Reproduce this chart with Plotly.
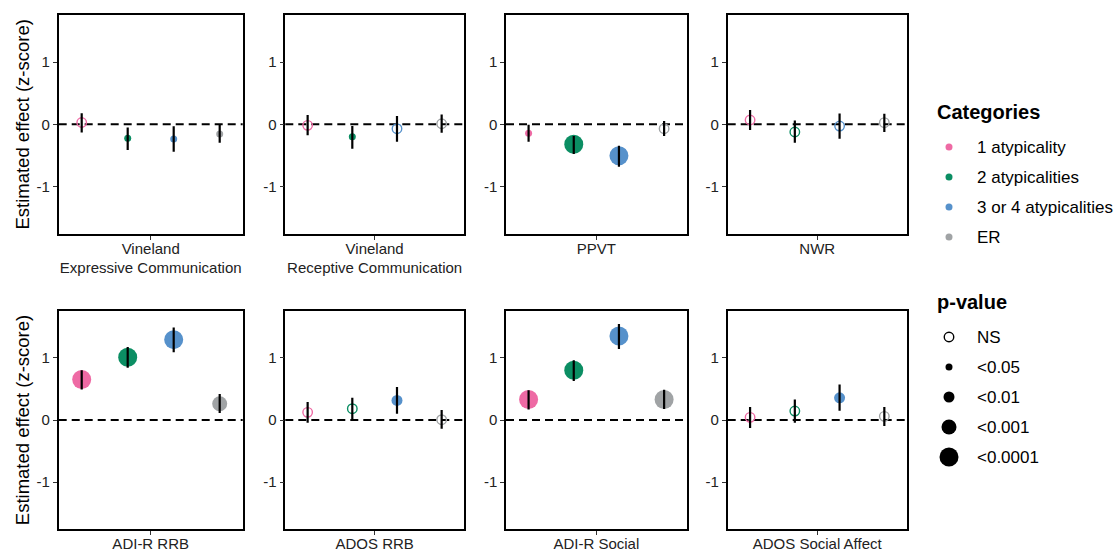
import plotly.graph_objects as go

W, H = 1114, 552
FONT = "Liberation Sans, Arial, sans-serif"

# ---------------- data ----------------
measures = ["Vineland<br>Expressive Communication", "Vineland<br>Receptive Communication",
            "PPVT", "NWR", "ADI-R RRB", "ADOS RRB", "ADI-R Social", "ADOS Social Affect"]
categories = ["1 atypicality", "2 atypicalities", "3 or 4 atypicalities", "ER"]
cat_colors = ["#EE6AA4", "#0B8E63", "#5691CB", "#A0A3A5"]
pval_levels = ["NS", "<0.05", "<0.01", "<0.001", "<0.0001"]

# per category, values across the 8 measures (same order as `measures`)
est_1 = [0.03, -0.016, -0.144, 0.07, 0.652, 0.123, 0.33, 0.043]
lo_1 = [-0.13, -0.176, -0.278, -0.09, 0.49, -0.043, 0.17, -0.128]
hi_1 = [0.18, 0.15, -0.005, 0.23, 0.80, 0.289, 0.48, 0.21]
p_1 = ["NS", "NS", "<0.05", "NS", "<0.0001", "NS", "<0.0001", "NS"]

est_2 = [-0.225, -0.198, -0.32, -0.123, 1.01, 0.182, 0.80, 0.144]
lo_2 = [-0.41, -0.39, -0.476, -0.294, 0.84, 0.0, 0.63, -0.043]
hi_2 = [-0.05, -0.027, -0.187, 0.06, 1.176, 0.358, 0.963, 0.33]
p_2 = ["<0.05", "<0.05", "<0.0001", "NS", "<0.0001", "NS", "<0.0001", "NS"]

est_3 = [-0.235, -0.07, -0.503, -0.027, 1.294, 0.316, 1.353, 0.358]
lo_3 = [-0.44, -0.278, -0.68, -0.23, 1.09, 0.10, 1.144, 0.15]
hi_3 = [-0.03, 0.134, -0.342, 0.176, 1.49, 0.53, 1.545, 0.572]
p_3 = ["<0.05", "NS", "<0.0001", "NS", "<0.0001", "<0.01", "<0.0001", "<0.01"]

est_4 = [-0.155, 0.01, -0.07, 0.027, 0.262, 0.005, 0.33, 0.059]
lo_4 = [-0.295, -0.134, -0.187, -0.123, 0.112, -0.14, 0.176, -0.096]
hi_4 = [-0.01, 0.16, 0.053, 0.171, 0.417, 0.16, 0.487, 0.21]
p_4 = ["<0.05", "NS", "NS", "NS", "<0.001", "NS", "<0.0001", "NS"]

y_ticks = [-1, 0, 1]
y_ticklabels = ["-1", "0", "1"]

# ---------------- styling ----------------
SIZE = {"NS": 9.5, "<0.05": 7, "<0.01": 11, "<0.001": 15, "<0.0001": 19}
EST = [est_1, est_2, est_3, est_4]
LO = [lo_1, lo_2, lo_3, lo_4]
HI = [hi_1, hi_2, hi_3, hi_4]
PV = [p_1, p_2, p_3, p_4]

col_px = [(58.7, 242.7), (285.3, 464.0), (506.0, 686.7), (727.7, 906.7)]
row_px = [(14.7, 234.0), (310.7, 529.3)]
YR = [-1.76, 1.76]

fig = go.Figure()
layout = dict(width=W, height=H, margin=dict(l=0, r=0, t=0, b=0),
              paper_bgcolor="white", plot_bgcolor="rgba(0,0,0,0)", showlegend=False,
              font=dict(family=FONT, size=15, color="#333333"))
shapes = []

for m, name in enumerate(measures):
    k = m + 1
    r, c = divmod(m, 4)
    xs = "" if k == 1 else str(k)
    xa, ya = "x" + xs, "y" + xs
    # points
    for ci in range(4):
        p = PV[ci][m]
        hollow = p == "NS"
        fig.add_trace(go.Scatter(
            x=[ci + 1], y=[EST[ci][m]], mode="markers", xaxis=xa, yaxis=ya,
            marker=dict(symbol="circle-open" if hollow else "circle",
                        size=SIZE[p], color=cat_colors[ci],
                        line=dict(width=1.4 if hollow else 0, color=cat_colors[ci])),
            hoverinfo="skip"))
    # error bars (on top of points)
    bx, by = [], []
    for ci in range(4):
        bx += [ci + 1, ci + 1, None]
        by += [LO[ci][m], HI[ci][m], None]
    fig.add_trace(go.Scatter(x=bx, y=by, mode="lines", xaxis=xa, yaxis=ya,
                             line=dict(color="black", width=2.2), hoverinfo="skip"))
    # dashed zero line
    shapes.append(dict(type="line", xref=xa + " domain", yref=ya, x0=0, x1=1, y0=0, y1=0,
                       line=dict(color="black", width=2, dash="8px,5px"), layer="below"))

    x0, x1 = col_px[c]
    y0, y1 = row_px[r]
    layout["xaxis" + xs] = dict(
        domain=[x0 / W, x1 / W], range=[0.5, 4.5], anchor=ya,
        tickvals=[2.5], ticktext=[name], ticks="outside", ticklen=4, tickcolor="#333333",
        tickfont=dict(size=15, color="#222222"), ticklabelstandoff=-4,
        showline=True, mirror=True, linecolor="black", linewidth=1.5,
        showgrid=False, zeroline=False, fixedrange=True, automargin=False)
    yax = dict(
        domain=[1 - y1 / H, 1 - y0 / H], range=YR, anchor=xa,
        tickvals=y_ticks, ticktext=y_ticklabels, ticks="outside", ticklen=4,
        tickcolor="#333333", tickfont=dict(size=15, color="#222222"),
        showline=True, mirror=True, linecolor="black", linewidth=1.5,
        showgrid=False, zeroline=False, fixedrange=True, automargin=False)
    if c == 0:
        yax["title"] = dict(text="Estimated effect (z-score)", standoff=2,
                            font=dict(size=18.5, color="black"))
    layout["yaxis" + xs] = yax

# ---------------- custom legend (own subplot in pixel units) ----------------
LEG_LEFT = 915
LX_MARK, LX_TEXT, LX_TITLE = 949, 975, 935
CAT_TITLE_Y, PV_TITLE_Y, FIRST_GAP, STEP = 112, 302, 35, 30
annotations = []
lx, ly = "x9", "y9"
layout["xaxis9"] = dict(domain=[LEG_LEFT / W, 1], range=[LEG_LEFT, W], visible=False,
                        fixedrange=True, anchor="y9")
layout["yaxis9"] = dict(domain=[0, 1], range=[H, 0], visible=False, fixedrange=True, anchor="x9")

annotations.append(dict(text="<b>Categories</b>", x=LX_TITLE, y=CAT_TITLE_Y, xref=lx, yref=ly,
                        xanchor="left", yanchor="middle", showarrow=False,
                        font=dict(size=20, color="black")))
for i, (cat, col) in enumerate(zip(categories, cat_colors)):
    yy = CAT_TITLE_Y + FIRST_GAP + STEP * i
    fig.add_trace(go.Scatter(x=[LX_MARK], y=[yy], mode="markers", xaxis=lx, yaxis=ly,
                             marker=dict(size=7, color=col), hoverinfo="skip"))
    annotations.append(dict(text=cat, x=LX_TEXT, y=yy, xref=lx, yref=ly, xanchor="left",
                            yanchor="middle", showarrow=False, font=dict(size=17, color="black")))

annotations.append(dict(text="<b>p-value</b>", x=LX_TITLE, y=PV_TITLE_Y, xref=lx, yref=ly,
                        xanchor="left", yanchor="middle", showarrow=False,
                        font=dict(size=20, color="black")))
for i, lev in enumerate(pval_levels):
    yy = PV_TITLE_Y + FIRST_GAP + STEP * i
    hollow = lev == "NS"
    fig.add_trace(go.Scatter(x=[LX_MARK], y=[yy], mode="markers", xaxis=lx, yaxis=ly,
                             marker=dict(symbol="circle-open" if hollow else "circle",
                                         size=SIZE[lev], color="black",
                                         line=dict(width=1.4 if hollow else 0, color="black")),
                             hoverinfo="skip"))
    annotations.append(dict(text=lev, x=LX_TEXT, y=yy, xref=lx, yref=ly, xanchor="left",
                            yanchor="middle", showarrow=False, font=dict(size=17, color="black")))

layout["shapes"] = shapes
layout["annotations"] = annotations
fig.update_layout(**layout)
fig.write_html("out.html", config={"displayModeBar": False},
               post_script="document.body.style.margin='0';")
